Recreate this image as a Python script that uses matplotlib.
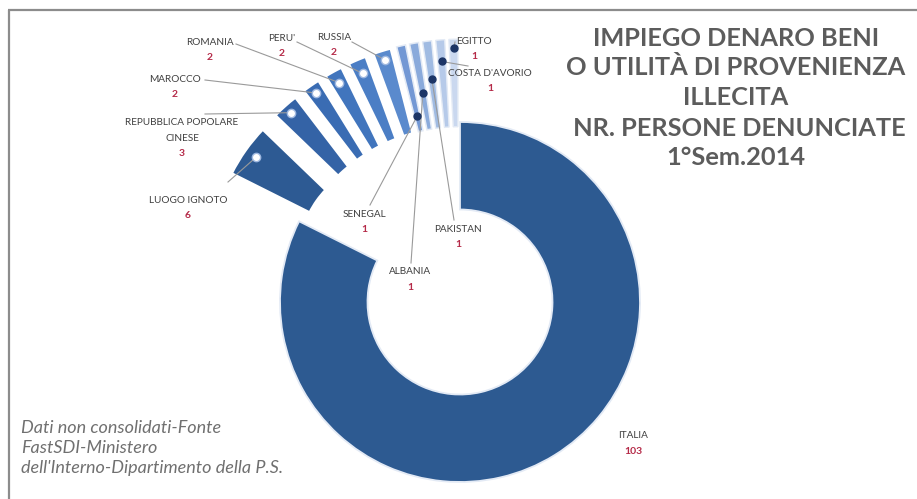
import matplotlib
matplotlib.use("Agg")
import matplotlib.pyplot as plt
import numpy as np

# ---------------- data ----------------
categories = ["ITALIA", "LUOGO IGNOTO", "REPUBBLICA POPOLARE\nCINESE", "MAROCCO", "ROMANIA",
              "PERU'", "RUSSIA", "SENEGAL", "ALBANIA", "PAKISTAN", "COSTA D'AVORIO", "EGITTO"]
values = [103, 6, 3, 2, 2, 2, 2, 1, 1, 1, 1, 1]
title_lines = ["IMPIEGO DENARO BENI", "O UTILITÀ DI PROVENIENZA", "ILLECITA",
               " NR. PERSONE DENUNCIATE", "1°Sem.2014"]
note_lines = ["Dati non consolidati-Fonte", "FastSDI-Ministero",
              "dell'Interno-Dipartimento della P.S."]

# ---------------- style ----------------
colors = ["#2d5a91", "#2d5a93", "#3463a6", "#3a6cb3", "#4175bd", "#4b7ec5", "#5a8acd",
          "#7398d4", "#8aaadb", "#a0bbe2", "#b6cae9", "#cad8ef"]
R = 180
explode = [0] + [0.46 * R] * 11
edge_w = [1.3, 2.0, 2.0, 1.8, 1.8, 1.6, 1.6, 1.1, 1.1, 1.0, 1.0, 1.0]
dot_frac = [None, 0.93, 0.95, 0.95, 0.93, 0.92, 0.95, 0.60, 0.72, 0.79, 0.88, 0.95]
dot_dark = [False, False, False, False, False, False, False, True, True, True, True, True]
# label positions in image pixels (x, y of first name line centre)
label_pos = [(633, 436), (188, 200), (182, 122), (175, 79), (210, 42), (282, 38),
             (334, 37), (364, 214), (410, 272), (458, 229), (490, 73), (474, 41)]
line_end = [None, (228, 182), (205, 114), (205, 80), (236, 44), (297, 42), (352, 42),
            (370, 205), (411, 263), (454, 220), (468, 66), (455, 42)]

W, H = 917, 499
fig = plt.figure(figsize=(W / 100, H / 100), dpi=100)
ax = fig.add_axes([0, 0, 1, 1])


def P(x, y):
    return (x, H - y)


CX, CY = 460, 302
wedges, _ = ax.pie(values, center=P(CX, CY), radius=R, startangle=90, counterclock=False,
                   explode=explode, colors=colors,
                   wedgeprops=dict(width=87.5, edgecolor="#e3eaf5", linewidth=1.3))
for w, lw in zip(wedges, edge_w):
    w.set_linewidth(lw)
    if lw > 1.5:
        w.set_edgecolor("white")
ax.set_xlim(0, W)
ax.set_ylim(0, H)
ax.set_aspect("equal")
ax.axis("off")

name_font = dict(family="Lato", fontsize=7.2, color="#404040")
val_font = dict(family="Lato", fontsize=7.5, color="#b52a48", fontweight="bold")

for i, w in enumerate(wedges):
    lx, ly = label_pos[i]
    parts = categories[i].split("\n")
    for k, part in enumerate(parts):
        ax.text(*P(lx, ly + 16 * k), part, ha="center", va="center", **name_font)
    ax.text(*P(lx, ly + 16 * (len(parts) - 1) + 15), str(values[i]), ha="center",
            va="center", **val_font)
    if dot_frac[i] is None:
        continue
    mid = np.deg2rad((w.theta1 + w.theta2) / 2)
    cx, cy = w.center
    dx = cx + dot_frac[i] * R * np.cos(mid)
    dy = cy + dot_frac[i] * R * np.sin(mid)
    ex, ey = P(*line_end[i])
    ax.plot([dx, ex], [dy, ey], color="#9a9a9a", lw=0.8, zorder=3)
    if dot_dark[i]:
        ax.plot(dx, dy, "o", ms=5, mfc="#1c3566", mec="#1c3566", zorder=4)
    else:
        ax.plot(dx, dy, "o", ms=6, mfc="white", mec="#9fb8e0", mew=1, zorder=4)

title_y = [38, 67, 97, 128, 157]
for t, y in zip(title_lines, title_y):
    ax.text(*P(736, y), t, ha="center", va="center", family="Lato", fontweight="bold",
            fontsize=18.3, color="#5c5c5c")

note_y = [428, 448, 468]
for t, y in zip(note_lines, note_y):
    ax.text(*P(21, y), t, ha="left", va="center", family="Lato", style="italic",
            fontsize=13, color="#707070")

# frame (left and top)
ax.plot([9, 9], [0, H - 10], color="#8c8c8c", lw=1.6, solid_capstyle="butt")
ax.plot([8, W], [H - 10, H - 10], color="#8c8c8c", lw=1.6, solid_capstyle="butt")

fig.savefig("out.png", dpi=100, facecolor="white")
